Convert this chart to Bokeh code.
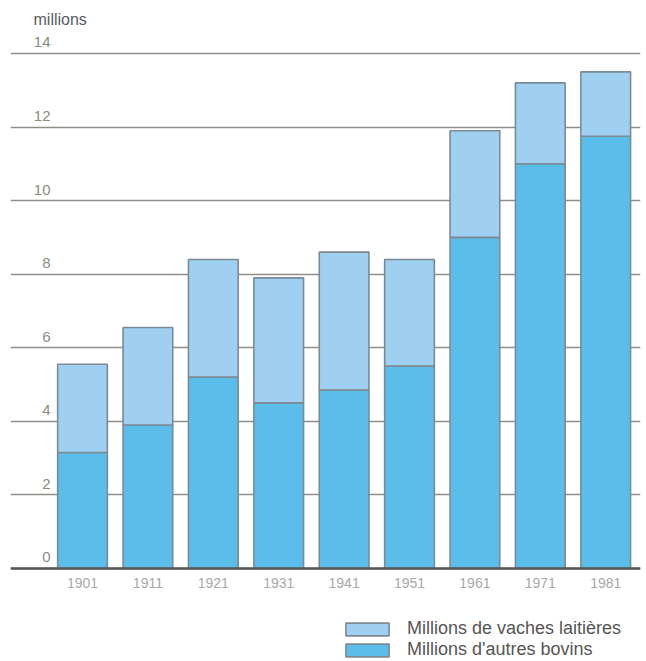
from bokeh.plotting import figure
from bokeh.models import ColumnDataSource, Range1d, FixedTicker, Legend, LegendItem, Span
from bokeh.core.properties import value
from bokeh.embed import file_html
from bokeh.resources import INLINE

# ---- data ----
years = ["1901", "1911", "1921", "1931", "1941", "1951", "1961", "1971", "1981"]
autres_bovins = [3.15, 3.9, 5.2, 4.5, 4.85, 5.5, 9.0, 11.0, 11.75]
vaches_laitieres = [2.4, 2.65, 3.2, 3.4, 3.75, 2.9, 2.9, 2.2, 1.75]
y_ticks = [0, 2, 4, 6, 8, 10, 12, 14]
y_tick_labels = ["0", "2", "4", "6", "8", "10", "12", "14"]
unit_label = "millions"
series_labels = ["Millions de vaches laitières", "Millions d'autres bovins"]

FONT = "Liberation Sans"
DARK = "#5bbde9"
LIGHT = "#9fd0f2"
EDGE = "#7b8a94"

src = ColumnDataSource(dict(
    x=list(range(len(years))),
    year=years,
    autres=autres_bovins,
    lait=vaches_laitieres,
))

# The frame fills the whole page height so that the legend below the
# baseline is not clipped; the category labels are drawn at y = 0.
p = figure(width=646, height=661,
           x_range=Range1d(-1.101, 8.532), y_range=Range1d(-2.53, 15.44),
           output_backend="svg", toolbar_location=None, title_location=None,
           min_border_left=10, min_border_right=6, min_border_top=0,
           min_border_bottom=0)
p.outline_line_color = None
p.background_fill_color = "white"
p.xaxis.visible = False
p.yaxis.visible = False

# horizontal grid
p.ygrid.ticker = FixedTicker(ticks=y_ticks)
p.ygrid.grid_line_color = "#8e8e86"
p.ygrid.grid_line_width = 1.6
p.xgrid.grid_line_color = None

rs = p.vbar_stack(["autres", "lait"], x="x", width=0.76, source=src,
                  fill_color=[DARK, LIGHT], line_color=EDGE, line_width=1.6)

# baseline
p.add_layout(Span(location=0, dimension="width", line_color="#555555",
                  line_width=2.5))

# year labels under the baseline
p.text(x="x", y=0, text="year", source=src, text_align="center",
       text_baseline="middle", y_offset=15, text_color="#a8a8a8",
       text_font=value(FONT), text_font_size="14px")

# y tick labels inside the plot, above each grid line
tick_src = ColumnDataSource(dict(y=y_ticks, t=y_tick_labels))
p.text(x=-0.489, y="y", text="t", source=tick_src, text_align="right",
       text_baseline="alphabetic", y_offset=-11, text_color="#8a8d85",
       text_font=value(FONT), text_font_size="15px")

p.text(x=-0.749, y=14.92, text=[unit_label], text_align="left",
       text_baseline="middle", text_color="#5a5a5a",
       text_font=value(FONT), text_font_size="16px")

legend = Legend(items=[
    LegendItem(label=series_labels[0], renderers=[rs[1]]),
    LegendItem(label=series_labels[1], renderers=[rs[0]]),
], location=(330, 1))
legend.glyph_width = 54
legend.glyph_height = 16
legend.label_height = 20
legend.spacing = 0
legend.padding = 0
legend.margin = 0
legend.label_standoff = 13
legend.label_text_font = FONT
legend.label_text_font_size = "18px"
legend.label_text_color = "#555555"
legend.border_line_alpha = 0
legend.background_fill_alpha = 0
p.add_layout(legend)

open("out.html", "w").write(file_html(p, INLINE))
